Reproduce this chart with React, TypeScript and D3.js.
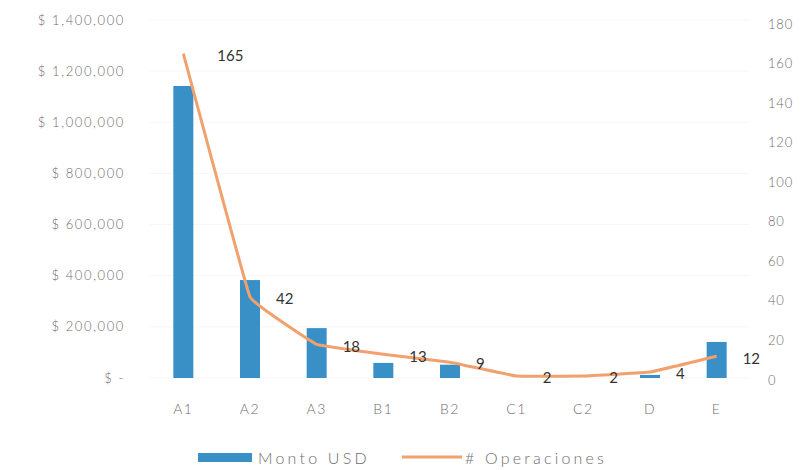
import React from "react";
import * as d3 from "d3";

const categories = ["A1", "A2", "A3", "B1", "B2", "C1", "C2", "D", "E"];
const montoUSD = [1142000, 383000, 195000, 59000, 52000, 0, 0, 12000, 141000];
const operaciones = [165, 42, 18, 13, 9, 2, 2, 4, 12];
const leftTicks = [0, 200000, 400000, 600000, 800000, 1000000, 1200000, 1400000];
const rightTicks = [0, 20, 40, 60, 80, 100, 120, 140, 160, 180];

const W = 811;
const H = 470;
const FONT = "Lato, 'Open Sans', sans-serif";

export default function App() {
  const x = d3.scaleBand<string>().domain(categories).range([150, 750]).paddingInner(0.7).paddingOuter(0.35);
  const yL = d3.scaleLinear().domain([0, 1400000]).range([378, 20]);
  const yR = d3.scaleLinear().domain([0, 180]).range([380, 24]);
  const fmt = (v: number) => (v === 0 ? "$ -" : "$ " + d3.format(",")(v));
  const line = d3
    .line<number>()
    .x((_, i) => (x(categories[i]) as number) + x.bandwidth() / 2)
    .y((d) => yR(d))
    .curve(d3.curveCardinal.tension(0.85));

  return (
    <svg width={W} height={H} style={{ position: "absolute", left: 0, top: 0, background: "#fff" }}>
      <g fontFamily={FONT} fill="#6e6e6e" fontSize={13} fontWeight={300}>
        {leftTicks.map((t) => (
          <g key={t}>
            <line x1={150} x2={750} y1={yL(t)} y2={yL(t)} stroke="#f7f7f7" strokeWidth={1} />
            <text x={125} y={yL(t)} dy="0.35em" textAnchor="end" letterSpacing={1.6}>
              {fmt(t)}
            </text>
          </g>
        ))}
        {rightTicks.map((t) => (
          <text key={t} x={768} y={yR(t)} dy="0.35em" textAnchor="start" letterSpacing={0.8}>
            {t}
          </text>
        ))}
        {categories.map((c) => (
          <text
            key={c}
            x={(x(c) as number) + x.bandwidth() / 2}
            y={409}
            dy="0.35em"
            textAnchor="middle"
            fontSize={14}
            letterSpacing={1.5}
          >
            {c}
          </text>
        ))}
      </g>
      <g>
        {categories.map((c, i) => (
          <rect
            key={c}
            x={x(c)}
            y={yL(montoUSD[i])}
            width={x.bandwidth()}
            height={yL(0) - yL(montoUSD[i])}
            fill="#3990c6"
          />
        ))}
      </g>
      <path d={line(operaciones) || ""} fill="none" stroke="#f2a06e" strokeWidth={3} />
      <g fontFamily={FONT} fill="#333" fontSize={15}>
        {operaciones.map((v, i) => (
          <text
            key={i}
            x={(x(categories[i]) as number) + x.bandwidth() / 2 + (i === 0 ? 34 : 26)}
            y={yR(v) + 2}
            dy="0.35em"
            textAnchor="start"
          >
            {v}
          </text>
        ))}
      </g>
      <g fontFamily={FONT} fill="#6e6e6e" fontSize={16} fontWeight={300}>
        <rect x={198} y={453} width={54} height={9} fill="#3990c6" />
        <text x={258} y={458} dy="0.35em" letterSpacing={3.2}>Monto USD</text>
        <line x1={402} x2={462} y1={457} y2={457} stroke="#f2a06e" strokeWidth={3} />
        <text x={465} y={458} dy="0.35em" letterSpacing={3.2}># Operaciones</text>
      </g>
    </svg>
  );
}
